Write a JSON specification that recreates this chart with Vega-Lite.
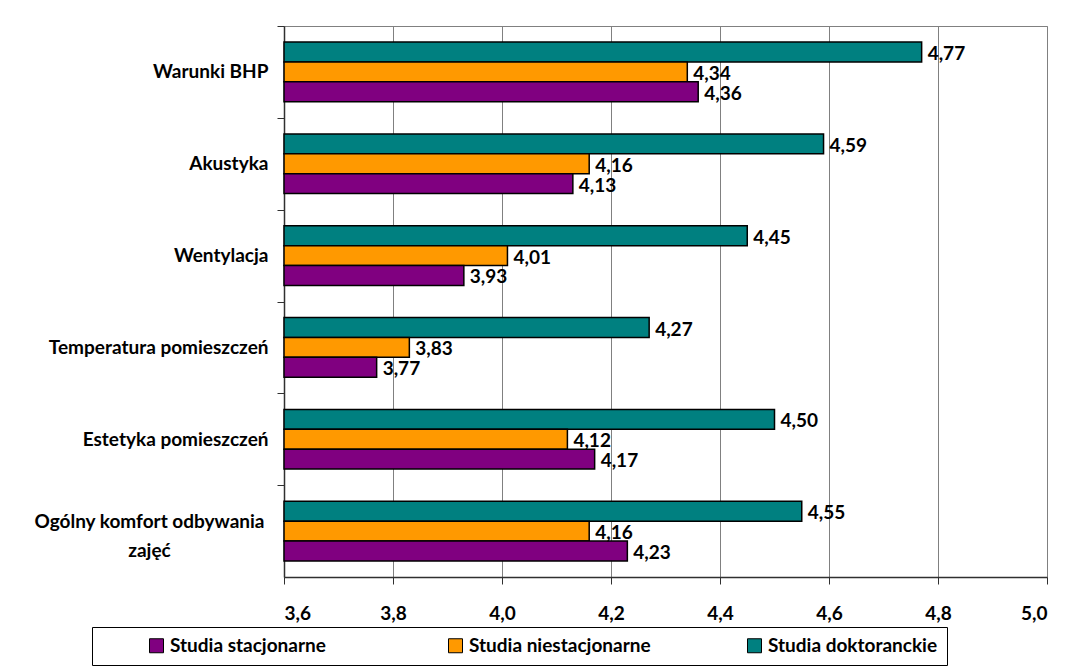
{
  "$schema": "https://vega.github.io/schema/vega-lite/v6.json",
  "width": 763,
  "height": 551,
  "autosize": "none",
  "padding": {"left": 284, "top": 26, "right": 21, "bottom": 89},
  "background": "white",
  "config": {
    "locale": {"number": {"decimal": ",", "thousands": " ", "grouping": [3], "currency": ["", " zł"]}},
    "font": "Lato",
    "view": {"stroke": "#808080", "strokeWidth": 1}
  },
  "data": {
    "values": [
      {"kategoria": "Warunki BHP", "seria": "Studia doktoranckie", "wartosc": 4.77},
      {"kategoria": "Warunki BHP", "seria": "Studia niestacjonarne", "wartosc": 4.34},
      {"kategoria": "Warunki BHP", "seria": "Studia stacjonarne", "wartosc": 4.36},
      {"kategoria": "Akustyka", "seria": "Studia doktoranckie", "wartosc": 4.59},
      {"kategoria": "Akustyka", "seria": "Studia niestacjonarne", "wartosc": 4.16},
      {"kategoria": "Akustyka", "seria": "Studia stacjonarne", "wartosc": 4.13},
      {"kategoria": "Wentylacja", "seria": "Studia doktoranckie", "wartosc": 4.45},
      {"kategoria": "Wentylacja", "seria": "Studia niestacjonarne", "wartosc": 4.01},
      {"kategoria": "Wentylacja", "seria": "Studia stacjonarne", "wartosc": 3.93},
      {"kategoria": "Temperatura pomieszczeń", "seria": "Studia doktoranckie", "wartosc": 4.27},
      {"kategoria": "Temperatura pomieszczeń", "seria": "Studia niestacjonarne", "wartosc": 3.83},
      {"kategoria": "Temperatura pomieszczeń", "seria": "Studia stacjonarne", "wartosc": 3.77},
      {"kategoria": "Estetyka pomieszczeń", "seria": "Studia doktoranckie", "wartosc": 4.50},
      {"kategoria": "Estetyka pomieszczeń", "seria": "Studia niestacjonarne", "wartosc": 4.12},
      {"kategoria": "Estetyka pomieszczeń", "seria": "Studia stacjonarne", "wartosc": 4.17},
      {"kategoria": "Ogólny komfort odbywania zajęć", "seria": "Studia doktoranckie", "wartosc": 4.55},
      {"kategoria": "Ogólny komfort odbywania zajęć", "seria": "Studia niestacjonarne", "wartosc": 4.16},
      {"kategoria": "Ogólny komfort odbywania zajęć", "seria": "Studia stacjonarne", "wartosc": 4.23}
    ]
  },
  "encoding": {
    "y": {
      "field": "kategoria",
      "type": "nominal",
      "sort": ["Warunki BHP", "Akustyka", "Wentylacja", "Temperatura pomieszczeń", "Estetyka pomieszczeń", "Ogólny komfort odbywania zajęć"],
      "scale": {"paddingInner": 0.35, "paddingOuter": 0.175},
      "axis": {
        "title": null,
        "domainColor": "#303030",
        "domainWidth": 1.5,
        "tickColor": "#303030",
        "tickSize": 7,
        "tickOffset": -45.9,
        "labelOffset": {"condition": {"test": "datum.value == 'Ogólny komfort odbywania zajęć'", "value": 35.9}, "value": 45.9},
        "labelFontSize": 19,
        "labelFontWeight": "bold",
        "labelColor": "black",
        "labelLimit": 400,
        "labelLineHeight": 29,
        "labelExpr": "datum.value == 'Ogólny komfort odbywania zajęć' ? ['Ogólny komfort odbywania', 'zajęć'] : datum.value",
        "labelAlign": {"condition": {"test": "datum.value == 'Ogólny komfort odbywania zajęć'", "value": "center"}, "value": "right"},
        "labelPadding": {"condition": {"test": "datum.value == 'Ogólny komfort odbywania zajęć'", "value": 128}, "value": 9}
      }
    },
    "yOffset": {
      "field": "seria",
      "type": "nominal",
      "sort": ["Studia doktoranckie", "Studia niestacjonarne", "Studia stacjonarne"]
    }
  },
  "layer": [
    {
      "mark": {"type": "bar", "stroke": "black", "strokeWidth": 1.5},
      "encoding": {
        "x": {
          "field": "wartosc",
          "type": "quantitative",
          "scale": {"domain": [3.6, 5.0], "zero": false, "nice": false},
          "axis": {
            "title": null,
            "values": [3.6, 3.8, 4.0, 4.2, 4.4, 4.6, 4.8, 5.0],
            "format": ".1f",
            "grid": true,
            "gridColor": "#808080",
            "gridWidth": 1,
            "gridOpacity": 1,
            "domainColor": "#303030",
            "domainWidth": 1.5,
            "tickColor": "#303030",
            "tickSize": 7,
            "labelPadding": 20,
            "labelFontSize": 19,
            "labelFontWeight": "bold",
            "labelColor": "black"
          }
        },
        "x2": {"datum": 3.6},
        "color": {
          "field": "seria",
          "type": "nominal",
          "scale": {
            "domain": ["Studia stacjonarne", "Studia niestacjonarne", "Studia doktoranckie"],
            "range": ["#800080", "#FF9900", "#008080"]
          },
          "legend": {
            "orient": "none",
            "legendX": -192,
            "legendY": 601,
            "direction": "horizontal",
            "columns": 3,
            "gridAlign": "all",
            "columnPadding": 48,
            "symbolOffset": 46,
            "title": null,
            "strokeColor": "black",
            "fillColor": "white",
            "padding": 9,
            "symbolType": "square",
            "symbolSize": 196,
            "symbolStrokeColor": "black",
            "symbolStrokeWidth": 1,
            "labelFontSize": 19,
            "labelFontWeight": "bold",
            "labelColor": "black",
            "labelLimit": 400
          }
        }
      }
    },
    {
      "mark": {"type": "text", "align": "left", "baseline": "middle", "dx": 6, "dy": 2, "fontSize": 19, "fontWeight": "bold", "color": "black"},
      "encoding": {
        "x": {"field": "wartosc", "type": "quantitative"},
        "text": {"field": "wartosc", "type": "quantitative", "format": ".2f"}
      }
    }
  ]
}
